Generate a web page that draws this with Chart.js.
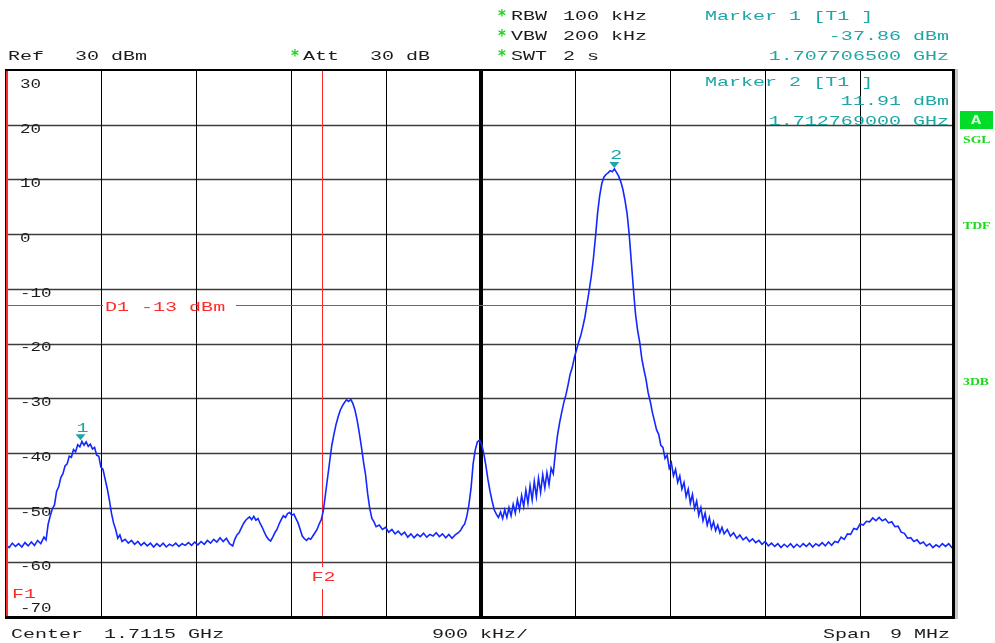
<!DOCTYPE html>
<html><head><meta charset="utf-8">
<script src="https://cdn.jsdelivr.net/npm/chart.js@4/dist/chart.umd.min.js"></script>
<style>html,body{margin:0;padding:0;background:#fff;}canvas{display:block}</style>
</head><body>
<canvas id="c" width="995" height="643"></canvas>
<script>
// ---------- data ----------
const startMHz = 1707.0;
const stopMHz = 1716.0;
const centerMHz = 1711.5;
const levelTop = 30;
const levelBottom = -70;
const yTickValues = [30, 20, 10, 0, -10, -20, -30, -40, -50, -60, -70];
const xGridMHz = [1707.9, 1708.8, 1709.7, 1710.6, 1711.5, 1712.4, 1713.3, 1714.2, 1715.1];

// sweep points: offset from start frequency (MHz)
const traceOffsetMHz = [
  0.00,0.03,0.06,0.09,0.12,0.15,0.18,0.21,0.24,0.27,0.30,0.33,0.36,0.38,
  0.40,0.42,0.44,0.46,0.48,0.50,0.52,0.54,0.56,0.58,0.60,0.62,0.64,0.66,0.68,0.70,0.72,0.74,0.76,0.78,
  0.80,0.82,0.84,0.86,0.88,0.90,0.92,0.94,0.96,0.98,1.00,1.02,1.04,1.06,1.08,1.10,
  1.13,1.16,1.19,1.22,1.25,1.28,1.31,1.34,1.37,1.40,1.43,1.46,1.49,1.52,1.55,1.58,1.61,1.64,1.67,1.70,
  1.73,1.76,1.79,1.82,1.85,1.88,1.91,1.94,1.97,2.00,2.03,2.06,2.09,2.12,2.15,
  2.17,2.19,2.21,2.23,2.25,2.27,2.29,2.31,2.33,2.35,2.37,2.39,2.41,2.43,2.45,2.47,2.49,2.51,2.53,2.55,
  2.57,2.59,2.61,2.63,2.65,2.67,2.69,2.71,2.73,2.75,2.77,2.79,2.81,2.83,2.85,2.87,2.89,2.91,2.93,2.95,
  2.97,2.99,3.01,3.03,3.05,3.07,3.09,3.11,3.13,3.15,3.17,3.19,3.21,3.23,3.25,3.27,3.29,3.31,3.33,3.35,
  3.37,3.39,3.41,3.43,3.45,3.47,3.49,
  3.51,3.54,3.57,3.60,3.63,3.66,3.69,3.72,3.75,3.78,3.81,3.84,3.87,3.90,3.93,3.96,3.99,4.02,4.05,4.08,
  4.11,4.14,4.17,4.20,4.23,4.26,4.29,
  4.31,4.33,4.35,4.37,4.39,4.41,4.43,4.45,4.47,4.49,4.51,4.53,4.55,4.57,4.59,4.61,4.63,4.65,4.67,
  4.69,4.71,4.73,4.75,4.77,4.79,4.81,4.83,4.85,4.87,4.89,4.91,4.93,4.95,4.97,4.99,5.01,5.03,5.05,5.07,
  5.09,5.11,5.13,5.15,5.17,
  5.19,5.21,5.23,5.25,5.27,5.29,5.31,5.33,5.35,5.37,5.39,5.41,5.43,5.45,5.47,5.49,5.51,5.53,5.55,5.57,
  5.59,5.61,5.63,5.65,5.67,5.69,5.71,5.73,5.75,5.77,5.79,5.81,5.83,5.85,5.87,5.89,5.91,5.93,5.95,5.97,
  5.99,6.01,6.03,6.05,6.07,6.09,6.11,6.13,6.15,6.17,6.19,6.21,6.23,6.25,6.27,6.29,6.31,6.33,6.35,
  6.37,6.39,6.41,6.43,6.45,6.47,6.49,6.51,6.53,6.55,6.57,6.59,6.61,6.63,6.65,6.67,6.69,6.71,6.73,6.75,
  6.77,6.79,6.81,
  6.84,6.87,6.90,6.93,6.96,6.99,7.02,7.05,7.08,7.11,7.14,7.17,7.20,7.23,7.26,7.29,7.32,7.35,7.38,7.41,
  7.44,7.47,7.50,7.53,7.56,7.59,7.62,7.65,7.68,7.71,7.74,7.77,7.80,7.83,7.86,7.89,7.92,7.95,7.98,8.01,
  8.04,8.07,8.10,8.13,8.16,8.19,8.22,8.25,8.28,8.31,8.34,8.37,8.40,8.43,8.46,8.49,8.52,8.55,8.58,8.61,
  8.64,8.67,8.70,8.73,8.76,8.79,8.82,8.85,8.88,8.91,8.94,8.97,9.00
];
// trace level (dBm)
const traceLevelDbm = [
  -56.8,-57.3,-56.5,-57.1,-56.6,-57.2,-56.4,-57.0,-56.3,-56.9,-56.0,-56.6,-55.4,-55.9,
  -53.0,-51.5,-50.2,-49.5,-47.0,-46.2,-44.5,-43.8,-42.4,-42.0,-40.6,-40.8,-39.4,-39.8,-38.5,-38.9,-37.9,-38.6,-38.0,-38.8,
  -38.4,-39.3,-39.0,-40.4,-40.6,-42.6,-43.0,-44.8,-46.5,-48.6,-51.0,-52.8,-54.0,-55.6,-55.0,-56.2,
  -55.8,-56.5,-56.0,-56.7,-56.2,-56.9,-56.4,-57.0,-56.5,-57.2,-56.6,-57.1,-56.5,-57.2,-56.7,-57.0,-56.5,-57.1,-56.6,-56.9,
  -56.4,-56.9,-56.3,-56.8,-56.2,-56.7,-56.0,-56.5,-55.8,-56.3,-55.5,-56.2,-55.6,-56.6,-57.0,
  -55.8,-55.0,-54.6,-53.8,-53.0,-52.4,-52.0,-51.7,-52.2,-51.6,-52.3,-52.0,-52.9,-53.6,-54.5,-55.3,-55.8,-56.1,-55.4,-54.6,
  -54.0,-53.0,-52.2,-51.5,-51.8,-51.1,-50.9,-51.4,-51.2,-52.0,-52.8,-54.0,-55.2,-55.7,-56.0,-55.6,-55.8,-55.2,-54.6,-54.0,
  -53.0,-52.2,-50.5,-47.5,-44.5,-41.5,-38.6,-36.6,-34.8,-33.4,-32.2,-31.4,-30.8,-30.3,-30.6,-30.2,-31.0,-32.2,-34.0,-36.3,
  -38.8,-41.6,-44.0,-47.5,-50.2,-52.0,-52.6,
  -53.5,-53.2,-54.0,-53.6,-54.5,-54.0,-54.8,-54.3,-55.0,-54.5,-55.4,-54.8,-55.5,-54.9,-55.3,-54.7,-55.4,-54.9,-55.2,-54.6,
  -55.3,-54.8,-55.5,-54.9,-55.6,-55.0,-54.6,
  -54.2,-53.5,-53.0,-51.6,-49.5,-46.5,-42.0,-39.5,-38.0,-37.7,-38.4,-40.0,-42.2,-44.8,-47.0,-48.8,-50.4,-51.2,-51.8,
  -50.8,-52.0,-50.4,-51.8,-50.0,-51.5,-49.4,-51.0,-48.6,-50.4,-47.8,-49.8,-46.8,-49.2,-46.0,-48.6,-45.2,-48.0,-44.6,-47.2,
  -44.0,-46.4,-43.6,-45.8,-42.8,
  -43.8,-40.0,-36.8,-34.5,-32.6,-30.8,-29.4,-27.6,-25.6,-24.4,-22.6,-21.2,-19.8,-18.6,-17.0,-15.2,-12.8,-10.4,-7.8,-4.6,
  -0.6,3.8,7.0,9.2,10.4,10.9,11.2,11.6,11.4,11.9,11.3,10.6,9.6,8.2,6.2,3.8,0.0,-5.0,-10.0,-14.6,
  -17.6,-19.8,-22.8,-24.8,-26.6,-29.0,-30.6,-32.6,-34.2,-35.8,-36.6,-38.6,-39.0,-41.0,-40.4,-42.8,-41.8,-44.2,-43.0,
  -45.4,-44.2,-46.6,-45.4,-48.0,-46.6,-49.2,-47.6,-50.2,-48.8,-51.4,-50.0,-52.4,-51.0,-53.2,-51.8,-53.8,-52.6,-54.2,-53.2,
  -54.6,-53.6,-54.8,
  -54.0,-55.2,-54.6,-55.6,-55.0,-55.9,-55.4,-56.2,-55.7,-56.4,-56.0,-56.7,-56.2,-57.0,-56.5,-57.1,-56.6,-57.3,-56.7,-57.2,
  -56.6,-57.3,-56.7,-57.2,-56.6,-57.1,-56.5,-57.2,-56.6,-57.0,-56.4,-57.0,-56.3,-56.9,-56.2,-56.4,-55.4,-55.8,-54.8,-54.9,
  -53.8,-54.0,-53.0,-53.2,-52.5,-52.6,-51.9,-52.4,-51.8,-52.4,-52.1,-52.8,-52.6,-53.5,-53.4,-54.5,-54.7,-55.6,-55.5,-56.2,
  -55.9,-56.6,-56.3,-57.0,-56.6,-57.3,-56.8,-57.2,-56.6,-57.1,-56.6,-57.3,-57.0
];

const markerNames = ['1', '2'];
const markerFreqMHz = [1707.7065, 1712.769];
const markerLevelDbm = [-37.86, 11.91];
const displayLineDbm = -13;
const f1MHz = 1707.0;
const f2MHz = 1710.0;

// ---------- drawing helpers ----------
const FONT = '13px "Liberation Mono", "DejaVu Sans Mono", monospace';
const SX = 1.54;
const TEAL = '#1ea6a6';
const RED = '#ff2a2a';
const GREEN = '#18d818';
const INK = '#1c1c1c';

function txt(ctx, s, x, y, color, align, sx, font) {
  ctx.save();
  ctx.font = font || FONT;
  ctx.fillStyle = color;
  ctx.textBaseline = 'middle';
  ctx.textAlign = align || 'left';
  ctx.translate(x, y);
  ctx.scale(sx || SX, 1);
  ctx.fillText(s, 0, 0);
  ctx.restore();
}

const analyzerPlugin = {
  id: 'analyzer',
  beforeDatasetsDraw(chart) {
    const ctx = chart.ctx, a = chart.chartArea;
    const xs = chart.scales.x, ys = chart.scales.y;
    ctx.save();
    // horizontal grid
    ctx.strokeStyle = '#3c3c3c';
    ctx.lineWidth = 1.4;
    yTickValues.forEach(v => {
      if (v === levelTop || v === levelBottom) return;
      const py = Math.round(ys.getPixelForValue(v)) + 0.5;
      ctx.beginPath(); ctx.moveTo(a.left, py); ctx.lineTo(a.right, py); ctx.stroke();
    });
    // vertical grid
    xGridMHz.forEach(f => {
      const px = Math.round(xs.getPixelForValue(f));
      if (f === centerMHz) {
        ctx.fillStyle = '#000';
        ctx.fillRect(px - 2, a.top, 4, a.bottom - a.top);
      } else {
        ctx.strokeStyle = '#000'; ctx.lineWidth = 1;
        ctx.beginPath(); ctx.moveTo(px + 0.5, a.top); ctx.lineTo(px + 0.5, a.bottom); ctx.stroke();
      }
    });
    // display line D1
    const dy = Math.round(ys.getPixelForValue(displayLineDbm)) + 0.5;
    ctx.strokeStyle = RED; ctx.lineWidth = 1;
    ctx.beginPath(); ctx.moveTo(a.left, dy); ctx.lineTo(103, dy); ctx.moveTo(236, dy); ctx.lineTo(a.right, dy); ctx.stroke();
    txt(ctx, 'D1 -13 dBm', 105, dy + 2, RED);
    // F2 line
    const fx = Math.round(xs.getPixelForValue(f2MHz)) + 0.5;
    ctx.beginPath(); ctx.moveTo(fx, a.top); ctx.lineTo(fx, 567); ctx.moveTo(fx, 589); ctx.lineTo(fx, a.bottom); ctx.stroke();
    txt(ctx, 'F2', fx + 1, 578, RED, 'center');
    // F1 line
    const f1x = Math.round(xs.getPixelForValue(f1MHz));
    ctx.fillStyle = RED;
    ctx.fillRect(f1x, a.top, 2, a.bottom - a.top);
    txt(ctx, 'F1', 12, 595, RED);
    // y tick labels
    yTickValues.forEach(v => {
      let py = ys.getPixelForValue(v);
      if (v === levelTop) py += 15; else if (v === levelBottom) py -= 8; else py += 4.5;
      txt(ctx, String(v), 20, py, INK, 'left', 1.35);
    });
    ctx.restore();
  },
  afterDatasetsDraw(chart) {
    const ctx = chart.ctx, a = chart.chartArea;
    const xs = chart.scales.x, ys = chart.scales.y;
    ctx.save();
    // borders
    ctx.fillStyle = '#000';
    ctx.fillRect(a.left - 1, a.top - 1, a.right - a.left + 1, 2);
    ctx.fillRect(a.left - 1, a.bottom - 1, a.right - a.left + 1, 3);
    ctx.fillRect(a.left - 1, a.top - 1, 1, a.bottom - a.top + 2);
    ctx.fillRect(a.right - 3, a.top - 1, 3, a.bottom - a.top + 3);
    ctx.fillStyle = '#c8c8c8';
    ctx.fillRect(a.right, a.top - 1, 3, a.bottom - a.top + 3);
    ctx.fillStyle = RED;
    ctx.fillRect(a.left, a.top + 1, 2, a.bottom - a.top - 2);
    // markers
    markerFreqMHz.forEach((f, i) => {
      const px = xs.getPixelForValue(f), py = ys.getPixelForValue(markerLevelDbm[i]);
      ctx.fillStyle = TEAL;
      ctx.beginPath();
      ctx.moveTo(px - 5, py - 7); ctx.lineTo(px + 5, py - 7); ctx.lineTo(px, py - 1); ctx.closePath(); ctx.fill();
      txt(ctx, markerNames[i], px + 2, py - 13, TEAL, 'center');
    });
    // header
    const starFont = 'bold 15px "DejaVu Sans", sans-serif';
    txt(ctx, 'Ref', 8, 57, INK);
    txt(ctx, '30 dBm', 75, 57, INK);
    txt(ctx, '*', 295, 57, GREEN, 'center', 1, starFont);
    txt(ctx, 'Att', 303, 57, INK);
    txt(ctx, '30 dB', 370, 57, INK);
    [['RBW', '100 kHz', 17], ['VBW', '200 kHz', 37], ['SWT', '2 s', 57]].forEach(r => {
      txt(ctx, '*', 502, r[2], GREEN, 'center', 1, starFont);
      txt(ctx, r[0], 511, r[2], INK);
      txt(ctx, r[1], 563, r[2], INK);
    });
    txt(ctx, 'Marker 1 [T1 ]', 705, 17, TEAL);
    txt(ctx, markerLevelDbm[0].toFixed(2) + ' dBm', 949, 37, TEAL, 'right');
    txt(ctx, '1.707706500 GHz', 949, 57, TEAL, 'right');
    txt(ctx, 'Marker 2 [T1 ]', 705, 83, TEAL);
    txt(ctx, markerLevelDbm[1].toFixed(2) + ' dBm', 949, 102, TEAL, 'right');
    txt(ctx, '1.712769000 GHz', 949, 122, TEAL, 'right');
    // side panel
    ctx.fillStyle = '#00dc28';
    ctx.fillRect(960, 111, 33, 18);
    txt(ctx, 'A', 976, 121, '#d8ffd8', 'center', 1.4, 'bold 12px "Liberation Mono", monospace');
    const sideFont = 'bold 11px "Liberation Serif", serif';
    txt(ctx, 'SGL', 963, 140, GREEN, 'left', 1.25, sideFont);
    txt(ctx, 'TDF', 963, 226, GREEN, 'left', 1.25, sideFont);
    txt(ctx, '3DB', 963, 382, GREEN, 'left', 1.25, sideFont);
    // footer
    txt(ctx, 'Center', 11, 635, INK);
    txt(ctx, '1.7115 GHz', 104, 635, INK);
    txt(ctx, '900 kHz/', 432, 635, INK);
    txt(ctx, 'Span', 823, 635, INK);
    txt(ctx, '9 MHz', 890, 635, INK);
    ctx.restore();
  }
};

const points = traceOffsetMHz.map((f, i) => ({ x: startMHz + f, y: traceLevelDbm[i] }));

new Chart(document.getElementById('c'), {
  type: 'line',
  data: { datasets: [{ data: points, borderColor: '#1228ff', borderWidth: 1.6, pointRadius: 0, tension: 0, fill: false }] },
  options: {
    responsive: false,
    animation: false,
    layout: { padding: { left: 6, top: 70, right: 40, bottom: 26 } },
    scales: {
      x: { type: 'linear', min: startMHz, max: stopMHz, display: false },
      y: { type: 'linear', min: levelBottom, max: levelTop, display: false }
    },
    plugins: { legend: { display: false }, tooltip: { enabled: false } }
  },
  plugins: [analyzerPlugin]
});
</script>
</body></html>
